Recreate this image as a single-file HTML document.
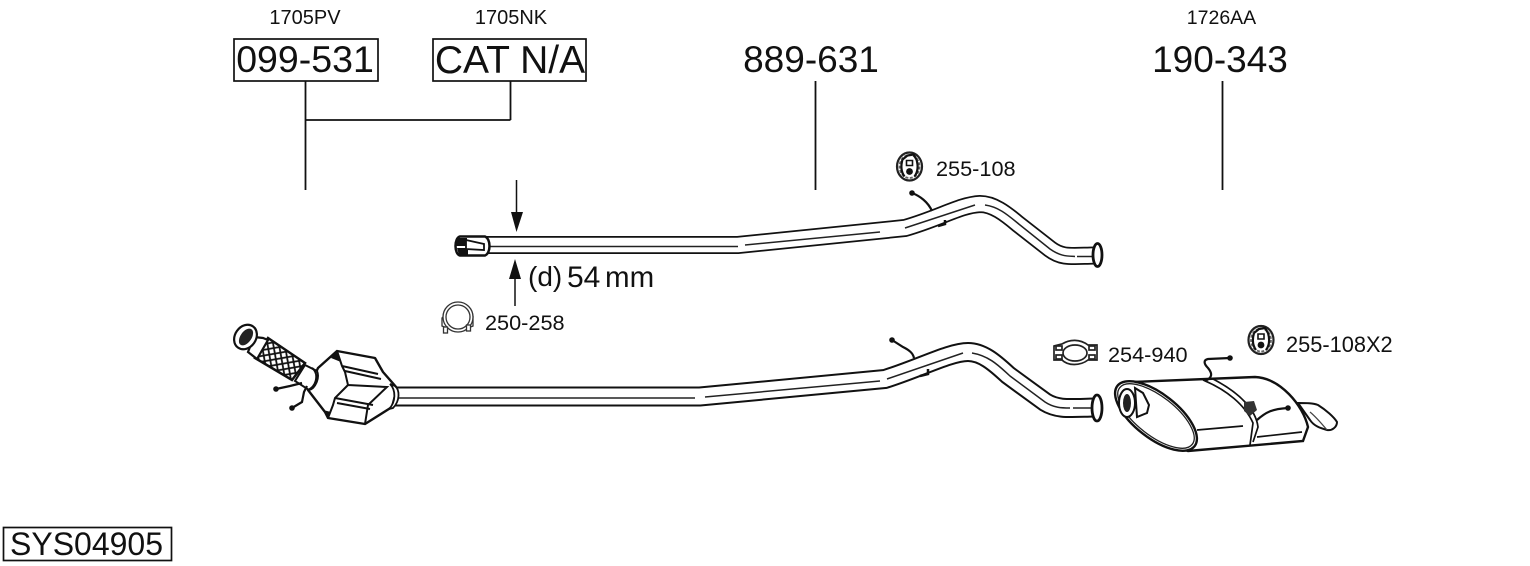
<!DOCTYPE html>
<html><head><meta charset="utf-8"><style>
html,body{margin:0;padding:0;background:#fff}
svg{display:block}
text{font-family:"Liberation Sans",sans-serif;fill:#111}
</style></head><body>
<svg width="1530" height="566" viewBox="0 0 1530 566" xmlns="http://www.w3.org/2000/svg">
<defs>
<pattern id="mesh" width="8" height="8" patternUnits="userSpaceOnUse" patternTransform="rotate(35)">
<rect width="8" height="8" fill="#fff"/><path d="M0 0L8 8M8 0L0 8" stroke="#111" stroke-width="1.800"/>
</pattern>
<g id="hanger">
<ellipse cx="0" cy="0" rx="12.500" ry="14" fill="#fff" stroke="#222" stroke-width="2.200"/>
<ellipse cx="0" cy="0" rx="10" ry="11.500" fill="none" stroke="#666" stroke-width="1.800" stroke-dasharray="3 1.500"/>
<path d="M-7 -7C-9 0 -8 6 -5 10M7 -7C9 0 8 6 5 10M-7 -7L-2 -11L4 -12L7 -7" fill="none" stroke="#111" stroke-width="2.200"/>
<path d="M-3 -6H3V-1H-3Z" fill="#fff" stroke="#111" stroke-width="1.600"/>
<circle cx="0" cy="5" r="3.400" fill="#111"/>
</g>
</defs>

<!-- leader lines -->
<g stroke="#111" stroke-width="1.800" fill="none">
<path d="M305.500 81V190M305 120H510.500M510.500 81V120M815.500 81V190M1222.500 81V190"/>
<path d="M516.500 180V214M515 306V276" stroke-width="1.500"/>
</g>
<path d="M511 212H523L516.500 232Z M509 279H521L515 259Z" fill="#111"/>

<!-- part boxes -->
<rect x="234" y="39" width="144" height="42" fill="#fff" stroke="#111" stroke-width="1.700"/>
<rect x="433" y="39" width="153" height="42" fill="#fff" stroke="#111" stroke-width="1.700"/>
<rect x="3.500" y="527.500" width="168" height="33" fill="#fff" stroke="#111" stroke-width="1.700"/>

<text x="305" y="24" font-size="20" text-anchor="middle">1705PV</text>
<text x="511" y="24" font-size="20" text-anchor="middle">1705NK</text>
<text x="1221.500" y="24" font-size="19.500" text-anchor="middle">1726AA</text>
<text x="305" y="72" font-size="37.500" text-anchor="middle">099-531</text>
<text x="510" y="73" font-size="39" text-anchor="middle">CAT N/A</text>
<text x="811" y="72" font-size="37" text-anchor="middle">889-631</text>
<text x="1220" y="72" font-size="37" text-anchor="middle">190-343</text>
<text x="10" y="555" font-size="32">SYS04905</text>
<text x="936" y="176" font-size="21.700">255-108</text>
<text x="485" y="330" font-size="21.700">250-258</text>
<text x="1108" y="362" font-size="21.700">254-940</text>
<text x="1286" y="352" font-size="21.800">255-108X2</text>
<text x="528" y="286" font-size="28">(d)</text>
<text x="567" y="287" font-size="30">54</text>
<text x="605" y="287" font-size="29.500">mm</text>

<!-- upper pipe -->
<path d="M480 245H738L905 228C940 218 960 205 980 204C993 204 1005 213 1018 224L1050 249C1062 258 1070 256 1095 255.500" fill="none" stroke="#111" stroke-width="18"/>
<path d="M480 245H738L905 228C940 218 960 205 980 204C993 204 1005 213 1018 224L1050 249C1062 258 1070 256 1095 255.500" fill="none" stroke="#fff" stroke-width="14.500"/>
<path d="M490 246.500H738M745 245L880 232M905 228L975 205M985 205C1000 207 1010 217 1020 225L1050 249C1060 256 1066 256 1075 256.500M1077 256.500H1093" fill="none" stroke="#222" stroke-width="1.500"/>
<ellipse cx="1097.500" cy="255" rx="4.500" ry="11.500" fill="#fff" stroke="#111" stroke-width="2.800"/>
<path d="M912 193C920 196 928 202 932 211" fill="none" stroke="#111" stroke-width="2.200"/>
<circle cx="912" cy="193" r="2.800" fill="#111"/>
<path d="M938 226L945 224V220" fill="none" stroke="#111" stroke-width="2.500"/>
<!-- pipe end -->
<path d="M485 236.500H460C454 238 454 254 460 255.500H485C491 253 491 239 485 236.500Z" fill="#fff" stroke="#111" stroke-width="2.500"/>
<path d="M457 238H467V246H456Z M457 248H468V255H459Z" fill="#111"/>
<path d="M466 240L484 244V250L466 249Z" fill="#fff" stroke="#111" stroke-width="1.800"/>

<!-- lower pipe -->
<path d="M390 396.500H700L885 379C920 368 950 352 968 352C982 352 994 362 1008 375L1045 402C1058 410 1070 408 1095 407.500" fill="none" stroke="#111" stroke-width="20"/>
<path d="M390 396.500H700L885 379C920 368 950 352 968 352C982 352 994 362 1008 375L1045 402C1058 410 1070 408 1095 407.500" fill="none" stroke="#fff" stroke-width="16"/>
<path d="M395 398H695M705 397L880 381M887 379L963 353M972 353C990 356 1000 367 1010 376L1045 402C1054 408 1062 408 1070 408M1073 408H1093" fill="none" stroke="#222" stroke-width="1.500"/>
<ellipse cx="1097" cy="408" rx="5" ry="13" fill="#fff" stroke="#111" stroke-width="2.800"/>
<path d="M892 340L903 347C909 350 913 353 914 358" fill="none" stroke="#111" stroke-width="2.200"/>
<circle cx="892" cy="340" r="2.800" fill="#111"/>
<path d="M920 376L928 374V369" fill="none" stroke="#111" stroke-width="2.500"/>

<!-- catalyst -->
<path d="M318 368L337 351L375 358L383 372L397 388L392 407L365 424L328 418L325 412L308 390Z" fill="#fff" stroke="#111" stroke-width="2.400" stroke-linejoin="round"/>
<path d="M337 351L342 366L345 372L348 385L335 398L333 405L328 418M342 366L378 374M345 371L381 379M348 385L387 387L368 405L365 424M335 398L373 405M337 403L370 409" fill="none" stroke="#111" stroke-width="2"/>
<path d="M390 384C396 390 396 402 389 409L393 408C400 401 400 390 395 386Z" fill="#fff" stroke="#111" stroke-width="1.800"/>
<path d="M337 351L331 358L341 362Z M328 418L323 410L331 412Z" fill="#111"/>
<path d="M268 338L305 363L292 380L255 358Z" fill="url(#mesh)" stroke="#111" stroke-width="2.500"/>
<path d="M305 365L317 371C320 378 315 389 309 390L295 381Z" fill="#fff" stroke="#111" stroke-width="2"/>
<path d="M312 368C319 373 317 386 308 390" fill="none" stroke="#111" stroke-width="2"/>
<path d="M254 337L263 338L268 340L257 359L248 352Z" fill="#fff" stroke="#111" stroke-width="2.200"/>
<ellipse cx="245.500" cy="337" rx="10.500" ry="13" transform="rotate(35 245.500 337)" fill="#fff" stroke="#111" stroke-width="2.200"/>
<ellipse cx="246" cy="337" rx="5.500" ry="9.500" transform="rotate(35 246 337)" fill="#222"/>
<path d="M276 389L290 386L302 383M292 408L302 402L304 392L307 386" fill="none" stroke="#111" stroke-width="2.200"/>
<circle cx="276" cy="389" r="2.800" fill="#111"/>
<circle cx="292" cy="408" r="2.800" fill="#111"/>

<!-- tail pipe -->
<path d="M1298 403C1306 403 1313 403 1318 405C1326 410 1334 417 1337 422C1337 427 1332 431 1327 430C1320 428 1314 426 1310 420Z" fill="#fff" stroke="#111" stroke-width="2"/>
<path d="M1310 412C1316 417 1322 424 1327 430" fill="none" stroke="#444" stroke-width="1.200"/>
<!-- muffler -->
<path d="M1133 382L1255 377C1280 378 1303 405 1308 427L1303 441L1188 451L1156 438C1135 425 1117 410 1117 397C1118 388 1124 384 1133 382Z" fill="#fff" stroke="#111" stroke-width="2.400"/>
<ellipse cx="1156" cy="416" rx="49" ry="22" transform="rotate(38 1156 416)" fill="#fff" stroke="#111" stroke-width="2.400"/>
<ellipse cx="1156" cy="416" rx="46" ry="19.500" transform="rotate(38 1156 416)" fill="none" stroke="#222" stroke-width="1.300"/>
<path d="M1135 388L1143 393L1149 405L1147 413L1137 417Z" fill="#fff" stroke="#111" stroke-width="2"/>
<ellipse cx="1127" cy="403" rx="8" ry="14" fill="#fff" stroke="#111" stroke-width="2"/>
<ellipse cx="1127" cy="403" rx="4" ry="9" fill="#222"/>
<path d="M1203 380C1227 390 1245 405 1253 423L1250 445M1213 379C1240 393 1256 410 1258 427L1253 442M1197 430L1243 426M1257 437L1302 432" fill="none" stroke="#111" stroke-width="1.700"/>
<path d="M1244 402L1254 401L1257 410L1250 416L1244 411Z" fill="#333"/>
<path d="M1257 420C1266 412 1272 409 1288 408" fill="none" stroke="#111" stroke-width="2.200"/>
<circle cx="1288" cy="408" r="2.800" fill="#111"/>
<path d="M1230 358L1208 359C1203 360 1204 364 1208 368C1213 374 1212 378 1205 381" fill="none" stroke="#111" stroke-width="2.200"/>
<circle cx="1230" cy="358" r="2.800" fill="#111"/>

<!-- small parts -->
<use href="#hanger" x="909.500" y="166.500"/>
<use href="#hanger" x="1261" y="340"/>
<!-- U clamp -->
<g fill="#fff" stroke="#333" stroke-width="1.300">
<path d="M442 318L446 314L470 313L473 316V326L468 328H447L442 326Z"/>
<circle cx="458" cy="317" r="15"/>
<circle cx="458" cy="317" r="12"/>
<rect x="443.500" y="327" width="4" height="6"/>
<rect x="466.500" y="325" width="4" height="6"/>
</g>
<!-- flat clamp -->
<g fill="#fff" stroke="#222" stroke-width="1.700">
<path d="M1054 346L1062 344C1070 339 1080 339 1088 345L1097 345V360L1088 360C1080 366 1068 366 1062 360L1054 360Z"/>
<ellipse cx="1075" cy="353" rx="12" ry="8"/>
<rect x="1056" y="346" width="6" height="4"/>
<rect x="1056" y="355" width="6" height="4"/>
<rect x="1089" y="346" width="6" height="4"/>
<rect x="1089" y="355" width="6" height="4"/>
</g>
</svg>
</body></html>
